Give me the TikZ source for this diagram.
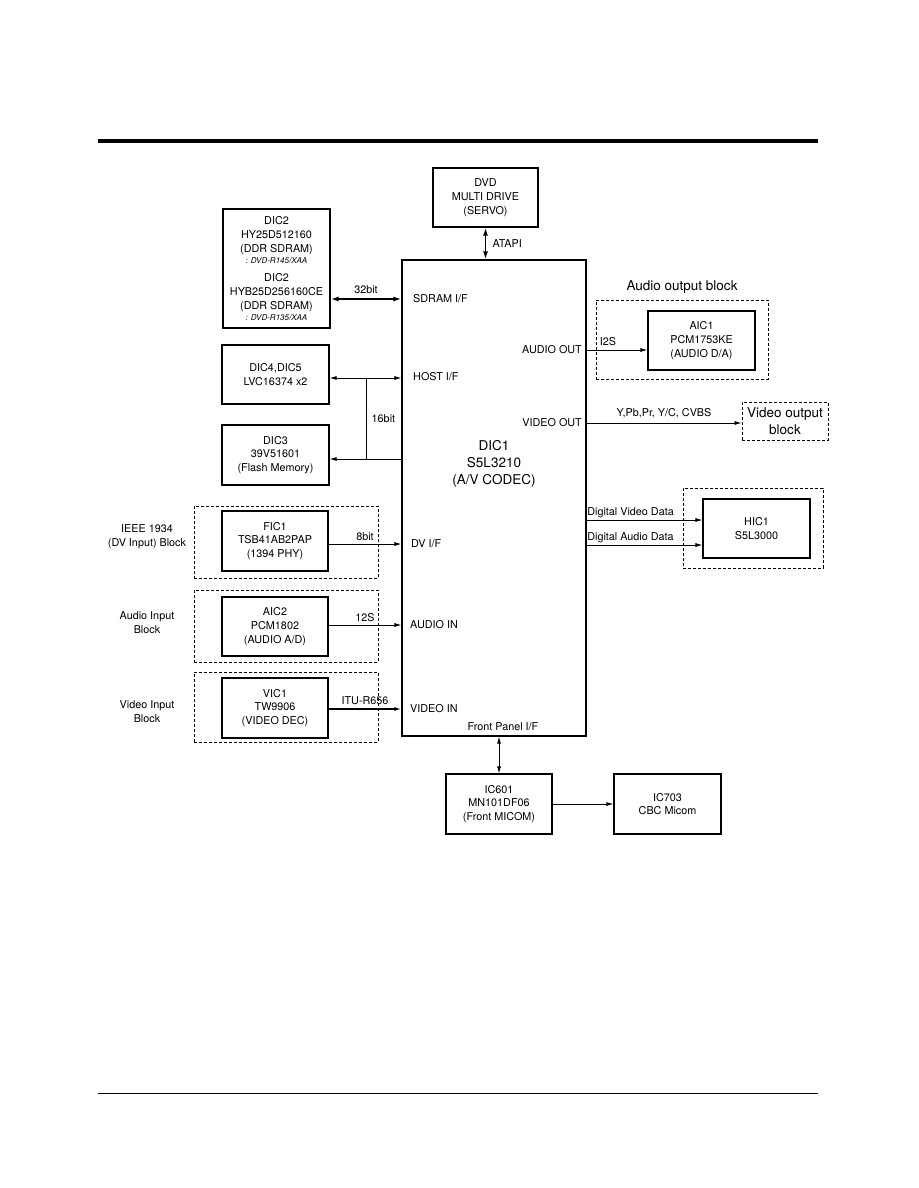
\documentclass[tikz,border=0pt]{standalone}
\usepackage{fontspec}
\setmainfont{TeX Gyre Heros}
\usetikzlibrary{arrows.meta,positioning,calc}
\newcommand{\modelnote}{\fontsize{8}{9}\selectfont\itshape}

\begin{document}
\begin{tikzpicture}[x=1pt, y=-1pt, font=\fontsize{10.8}{13.8}\selectfont,
  box/.style={draw=black, line width=1.1pt, minimum width=106pt, minimum height=59pt, align=center, inner sep=0pt},
  blk/.style={draw=black, line width=0.9pt, dashed, dash pattern=on 3pt off 2pt, inner sep=0pt},
  port/.style={inner sep=0pt},
  big/.style={font=\fontsize{13.5}{17}\selectfont},
  arrow/.style={-{Latex[length=7pt,width=4pt]}, line width=0.8pt},
  dblarrow/.style={{Latex[length=7pt,width=4pt]}-{Latex[length=7pt,width=4pt]}, line width=0.8pt},
  busarrow/.style={{Latex[length=8pt,width=5pt]}-{Latex[length=8pt,width=5pt]}, line width=1.8pt}]
  \useasboundingbox (0,0) rectangle (918,1188);
  % page rules
  \draw[line width=3.5pt] (98,141) -- (818,141);
  \draw[line width=1pt] (98,1093) -- (818,1093);

  % main codec
  \node[draw=black, line width=1.1pt, minimum width=184pt, minimum height=476pt, inner sep=0pt] (dic1) at (494,498) {};
  \node[big, align=center] (codec) at (494,464) {DIC1\\S5L3210\\(A/V CODEC)};
  \node[port, anchor=west] (sdramif) at (413,299) {SDRAM I/F};
  \node[port, anchor=west] (hostif) at (413,377) {HOST I/F};
  \node[port, anchor=west] (dvif) at (411,544) {DV I/F};
  \node[port, anchor=west] (audioin) at (410,625) {AUDIO IN};
  \node[port, anchor=west] (videoin) at (410,709) {VIDEO IN};
  \node[port, anchor=east] (audioout) at (582,350) {AUDIO OUT};
  \node[port, anchor=east] (videoout) at (582,423) {VIDEO OUT};
  \node[port] (frontif) at (503,727) {Front Panel I/F};

  % top and memory side
  \node[box, minimum width=105pt] (dvd) at (485.5,197.5) {DVD\\MULTI DRIVE\\(SERVO)};
  \node[box, minimum width=107pt, minimum height=119pt] (dic2) at (276.5,268.5) {DIC2\\HY25D512160\\(DDR SDRAM)\\[-3pt]{\modelnote : DVD-R145/XAA}\\[5pt]DIC2\\HYB25D256160CE\\(DDR SDRAM)\\[-3pt]{\modelnote : DVD-R135/XAA}};
  \node[box, minimum width=107pt] (dic45) at (275.5,374.5) {DIC4,DIC5\\LVC16374 x2};
  \node[box, minimum width=107pt, minimum height=60pt] (dic3) at (275.5,455) {DIC3\\39V51601\\(Flash Memory)};

  % input blocks
  \node[blk, minimum width=184pt, minimum height=72pt] (dvblk) at (286,542) {};
  \node[box, minimum height=60pt] (fic1) at (275,541) {FIC1\\TSB41AB2PAP\\(1394 PHY)};
  \node[align=center] (dvname) at (147,537) {IEEE 1934\\(DV Input) Block};
  \node[blk, minimum width=184pt, minimum height=72pt] (ainblk) at (286,626) {};
  \node[box] (aic2) at (275,626.5) {AIC2\\PCM1802\\(AUDIO A/D)};
  \node[align=center] (ainname) at (147,623) {Audio Input\\Block};
  \node[blk, minimum width=184pt, minimum height=70pt] (vinblk) at (286,707) {};
  \node[box, minimum height=60pt] (vic1) at (275,708) {VIC1\\TW9906\\(VIDEO DEC)};
  \node[align=center] (vinname) at (147,712) {Video Input\\Block};

  % output blocks
  \node[blk, minimum width=172pt, minimum height=79pt] (aoutblk) at (682,339.5) {};
  \node[big, above=3pt of aoutblk] (aoutname) {Audio output block};
  \node[box, minimum width=107pt] (aic1) at (701.5,340.5) {AIC1\\PCM1753KE\\(AUDIO D/A)};
  \node[blk, big, align=center, minimum width=86pt, minimum height=38pt] (vout) at (785,421) {Video output\\block};
  \node[blk, minimum width=140pt, minimum height=80pt] (hicblk) at (753,528) {};
  \node[box, minimum width=107pt] (hic1) at (756.5,528.5) {HIC1\\S5L3000};

  % front panel
  \node[box, minimum height=60pt] (ic601) at (499,804) {IC601\\MN101DF06\\(Front MICOM)};
  \node[box, minimum width=107pt, minimum height=60pt] (ic703) at (667.5,804) {IC703\\CBC Micom};

  % connections
  \draw[busarrow] (dvd.south) -- (dvd.south |- dic1.north) node[midway, right=3pt] {ATAPI};
  \draw[busarrow] (dic2.east |- sdramif) -- (dic1.west |- sdramif) node[midway, above=1pt] {32bit};
  \coordinate (hostjn) at (366,378);
  \coordinate (flashjn) at (366,459);
  \draw[dblarrow] (dic45.east |- hostjn) -- (dic1.west |- hostjn);
  \draw[line width=0.8pt] (hostjn) -- (flashjn) node[midway, right=2pt] {16bit};
  \draw[arrow] (dic1.west |- flashjn) -- (dic3.east |- flashjn);
  \draw[arrow] (dic1.east |- audioout) -- (aic1.west |- audioout) node[pos=0.35, above=1pt] {I2S};
  \draw[arrow] (dic1.east |- videoout) -- (vout.west |- videoout) node[midway, above=1pt] {Y,Pb,Pr, Y/C, CVBS};
  \draw[arrow] ($(hic1.west)+(0,-8.5)$) ++(-117,0) node[anchor=south west, inner sep=1.5pt] {Digital Video Data} -- ($(hic1.west)+(0,-8.5)$);
  \draw[arrow] ($(hic1.west)+(0,16.5)$) ++(-117,0) node[anchor=south west, inner sep=1.5pt] {Digital Audio Data} -- ($(hic1.west)+(0,16.5)$);
  \draw[arrow] (fic1.east |- dvif) -- (dic1.west |- dvif) node[midway, above=0pt] {8bit};
  \draw[arrow] (aic2.east |- audioin) -- (dic1.west |- audioin) node[midway, above=0pt] {12S};
  \draw[arrow, line width=1.8pt] (vic1.east |- videoin) -- (dic1.west |- videoin) node[midway, above=0pt] {ITU-R656};
  \draw[dblarrow] (ic601.north) -- (ic601.north |- dic1.south);
  \draw[arrow] (ic601.east) -- (ic703.west);
\end{tikzpicture}
\end{document}
